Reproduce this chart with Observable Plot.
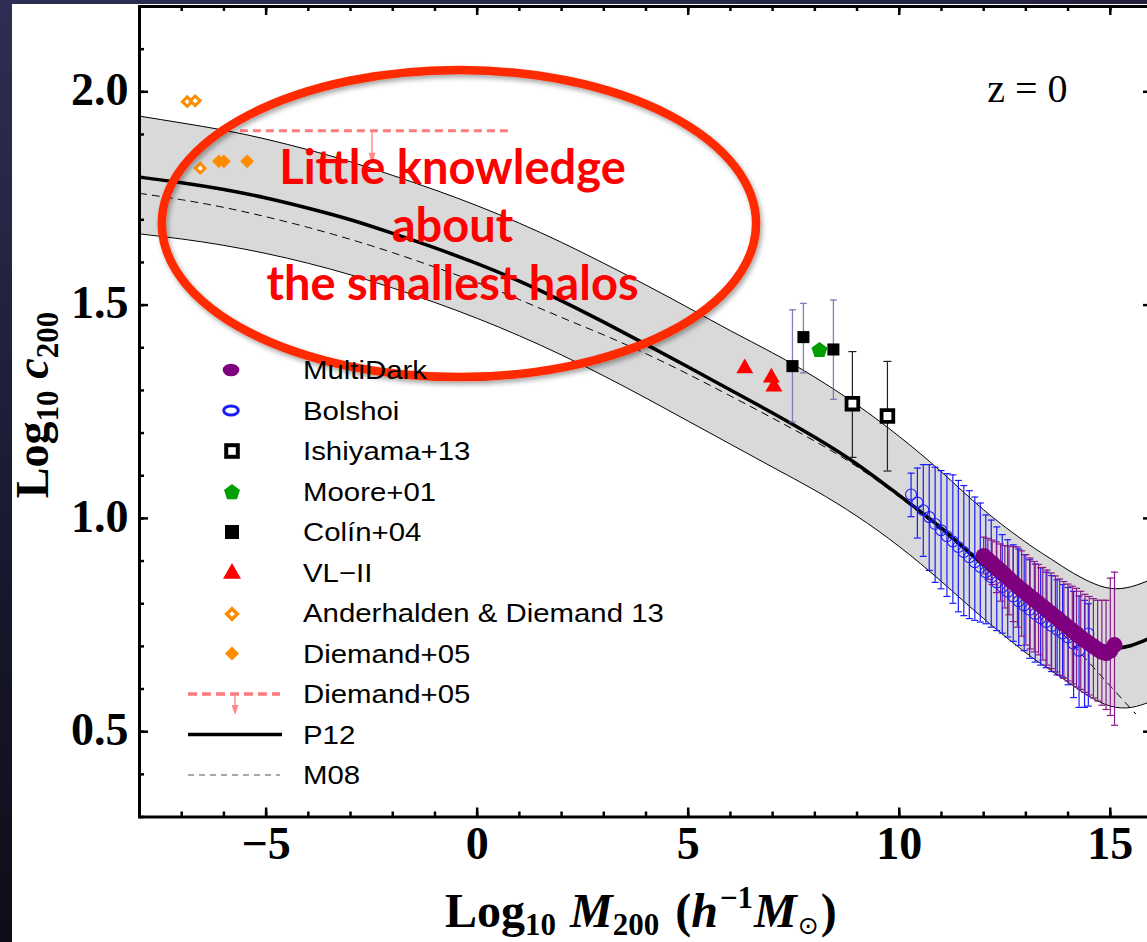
<!DOCTYPE html>
<html>
<head>
<meta charset="utf-8">
<script src="https://cdn.jsdelivr.net/npm/d3@7"></script>
<script src="https://cdn.jsdelivr.net/npm/@observablehq/plot@0.6"></script>
<style>
  html, body { margin: 0; padding: 0; width: 1147px; height: 942px; overflow: hidden; }
  body { position: relative; background: linear-gradient(165deg, #2e2e54 0%, #18182e 45%, #050508 100%); }
  #sheet { position: absolute; left: 12px; top: 4px; right: 0; bottom: 0; background: #ffffff; }
  #chart { position: absolute; left: 0; top: 0; }
</style>
</head>
<body>
<div id="sheet"></div>
<div id="chart"></div>
<script>
// ---- Model relations c(M) at z = 0 on a log10 M200 grid ----
const gridLogM = [-8, -7, -6, -5, -4, -3, -2, -1, 0, 1, 2, 3, 4, 5, 6, 7, 8, 9, 10, 11, 12, 13, 13.5, 14, 14.5, 15, 15.5, 16];
const p12LogC  = [1.800, 1.787, 1.771, 1.751, 1.727, 1.700, 1.668, 1.634, 1.597, 1.556, 1.510, 1.460, 1.408, 1.355, 1.301, 1.247, 1.190, 1.127, 1.054, 0.977, 0.890, 0.812, 0.778, 0.746, 0.716, 0.697, 0.702, 0.722];
const p12Upper = [1.943, 1.927, 1.910, 1.889, 1.864, 1.836, 1.804, 1.770, 1.733, 1.692, 1.647, 1.598, 1.547, 1.494, 1.440, 1.388, 1.331, 1.266, 1.192, 1.109, 1.020, 0.944, 0.911, 0.879, 0.852, 0.836, 0.840, 0.858];
const p12Lower = [1.667, 1.655, 1.640, 1.621, 1.598, 1.571, 1.540, 1.506, 1.469, 1.428, 1.383, 1.334, 1.282, 1.228, 1.174, 1.120, 1.066, 1.005, 0.934, 0.852, 0.765, 0.685, 0.650, 0.616, 0.583, 0.560, 0.557, 0.572];

const m08LogM = [-8, -7, -6, -5, -4, -3, -2, -1, 0, 1, 2, 3, 4, 5, 6, 7, 8, 9, 10, 11, 12, 13, 13.5, 14, 14.5, 15, 15.6];
const m08LogC = [1.762, 1.747, 1.729, 1.707, 1.682, 1.654, 1.623, 1.589, 1.553, 1.513, 1.471, 1.430, 1.386, 1.338, 1.287, 1.235, 1.181, 1.121, 1.050, 0.971, 0.887, 0.806, 0.768, 0.716, 0.662, 0.607, 0.542];

// ---- Simulation measurements ----
const multiDarkLogM = [12.0, 12.1, 12.2, 12.3, 12.4, 12.5, 12.6, 12.7, 12.8, 12.9, 13.0, 13.1, 13.2, 13.3, 13.4, 13.5, 13.6, 13.7, 13.8, 13.9, 14.0, 14.1, 14.2, 14.3, 14.4, 14.5, 14.6, 14.7, 14.8, 14.9, 15.0, 15.1];
const multiDarkLogC = [0.912, 0.903, 0.895, 0.886, 0.877, 0.868, 0.859, 0.850, 0.841, 0.833, 0.825, 0.817, 0.809, 0.801, 0.793, 0.785, 0.777, 0.769, 0.761, 0.753, 0.745, 0.737, 0.729, 0.721, 0.714, 0.707, 0.700, 0.693, 0.687, 0.684, 0.690, 0.703];
const multiDarkHi   = [0.956, 0.953, 0.949, 0.945, 0.940, 0.936, 0.935, 0.934, 0.933, 0.924, 0.915, 0.907, 0.899, 0.892, 0.885, 0.879, 0.872, 0.865, 0.858, 0.852, 0.846, 0.841, 0.836, 0.829, 0.822, 0.817, 0.812, 0.808, 0.808, 0.808, 0.860, 0.874];
const multiDarkLo   = [0.870, 0.857, 0.845, 0.826, 0.806, 0.790, 0.774, 0.758, 0.745, 0.724, 0.703, 0.694, 0.687, 0.680, 0.668, 0.656, 0.648, 0.640, 0.632, 0.625, 0.619, 0.612, 0.605, 0.599, 0.592, 0.586, 0.579, 0.572, 0.562, 0.552, 0.538, 0.515];

const bolshoiLogM = [10.28, 10.43, 10.57, 10.71, 10.85, 10.99, 11.13, 11.27, 11.40, 11.53, 11.66, 11.79, 11.92, 12.05, 12.18, 12.31, 12.44, 12.57, 12.70, 12.83, 12.96, 13.09, 13.22, 13.35, 13.48, 13.61, 13.74, 13.87, 14.00, 14.13, 14.26, 14.39, 14.48];
const bolshoiLogC = [1.056, 1.037, 1.019, 1.003, 0.987, 0.972, 0.958, 0.946, 0.933, 0.921, 0.909, 0.897, 0.886, 0.874, 0.862, 0.850, 0.839, 0.828, 0.817, 0.806, 0.796, 0.786, 0.776, 0.766, 0.757, 0.748, 0.739, 0.730, 0.721, 0.706, 0.690, 0.712, 0.730];
const bolshoiHi   = [1.106, 1.118, 1.126, 1.126, 1.120, 1.112, 1.105, 1.102, 1.089, 1.077, 1.065, 1.050, 1.036, 1.008, 0.996, 0.980, 0.962, 0.950, 0.938, 0.928, 0.915, 0.903, 0.893, 0.884, 0.874, 0.866, 0.856, 0.845, 0.838, 0.829, 0.818, 0.808, 0.800];
const bolshoiLo   = [1.004, 0.954, 0.911, 0.878, 0.850, 0.835, 0.817, 0.801, 0.781, 0.772, 0.765, 0.761, 0.757, 0.753, 0.745, 0.737, 0.731, 0.722, 0.712, 0.702, 0.690, 0.672, 0.663, 0.656, 0.650, 0.641, 0.633, 0.628, 0.610, 0.580, 0.557, 0.557, 0.560];

const ishiyamaLogM = [8.89, 9.72];
const ishiyamaLogC = [1.269, 1.240];
const ishiyamaHi   = [1.391, 1.368];
const ishiyamaLo   = [1.143, 1.111];

const mooreLogM = [8.11];
const mooreLogC = [1.394];

const colinLogM = [7.47, 7.73, 8.44];
const colinLogC = [1.357, 1.425, 1.396];
const colinHi   = [1.489, 1.504, 1.512];
const colinLo   = [1.226, 1.341, 1.279];

const vl2LogM = [6.34, 6.97, 7.03];
const vl2LogC = [1.352, 1.330, 1.309];

const anderhaldenLogM = [-6.87, -6.68, -6.56];
const anderhaldenLogC = [1.977, 1.979, 1.821];

const diemandLogM = [-6.12, -6.00, -5.45];
const diemandLogC = [1.837, 1.837, 1.837];

// Diemand+05 upper limit: horizontal span and the mass where the arrow sits
const diemandLimitLogC = 1.909;
const diemandLimitFrom = -5.61;
const diemandLimitTo = 0.74;
const diemandLimitArrowAt = -2.49;

// ---- Axis ticks and labels ----
const xMajorTicks = [-5, 0, 5, 10, 15];
const xMinorTicks = d3.range(-8, 17, 1);
const yMajorTicks = [0.5, 1.0, 1.5, 2.0];
const yMinorTicks = d3.range(3, 23).map(k => k / 10);

const legendLabels = ["MultiDark", "Bolshoi", "Ishiyama+13", "Moore+01", "Colín+04", "VL\u2212II", "Anderhalden & Diemand 13", "Diemand+05", "Diemand+05", "P12", "M08"];
const redshiftLabel = "z = 0";
const noteLines = ["Little knowledge", "about", "the smallest halos"];

// ---- Tables built from the arrays above ----
const curves = gridLogM.map((m, i) => ({m, c: p12LogC[i], hi: p12Upper[i], lo: p12Lower[i]}));
const m08 = m08LogM.map((m, i) => ({m, c: m08LogC[i]}));
const withBars = (ms, cs, his, los) => ms.map((m, i) => ({m, c: cs[i], hi: his ? his[i] : null, lo: los ? los[i] : null}));
const multiDark = withBars(multiDarkLogM, multiDarkLogC, multiDarkHi, multiDarkLo);
const bolshoi = withBars(bolshoiLogM, bolshoiLogC, bolshoiHi, bolshoiLo);
const ishiyama = withBars(ishiyamaLogM, ishiyamaLogC, ishiyamaHi, ishiyamaLo);
const colin = withBars(colinLogM, colinLogC, colinHi, colinLo);
const moore = withBars(mooreLogM, mooreLogC);
const vl2 = withBars(vl2LogM, vl2LogC);
const anderhalden = withBars(anderhaldenLogM, anderhaldenLogC);
const diemand = withBars(diemandLogM, diemandLogC);
const diemandLimit = [{m1: diemandLimitFrom, m2: diemandLimitTo, m: diemandLimitArrowAt, c: diemandLimitLogC}];

// ---- Custom symbols ----
const capSymbol = {draw(ctx, size) { const w = Math.sqrt(size / Math.PI); ctx.moveTo(-w, 0); ctx.lineTo(w, 0); }};
const pentagonSymbol = {draw(ctx, size) {
  const R = Math.sqrt(size / 2.3776);
  for (let k = 0; k < 5; ++k) {
    const a = -Math.PI / 2 + k * 2 * Math.PI / 5;
    const px = R * Math.cos(a), py = R * Math.sin(a);
    if (k) ctx.lineTo(px, py); else ctx.moveTo(px, py);
  }
  ctx.closePath();
}};
// downward arrow hanging from the point (upper limit marker)
const limitArrowSymbol = {draw(ctx) {
  ctx.moveTo(-0.7, 0); ctx.lineTo(0.7, 0); ctx.lineTo(0.7, 22); ctx.lineTo(3.5, 22);
  ctx.lineTo(0, 33); ctx.lineTo(-3.5, 22); ctx.lineTo(-0.7, 22); ctx.closePath();
}};

function errorBars(data, color, capR, width = 1, opacity = 1) {
  return [
    Plot.ruleX(data, {x: "m", y1: "lo", y2: "hi", stroke: color, strokeWidth: width, strokeOpacity: opacity}),
    Plot.dot(data, {x: "m", y: "hi", symbol: capSymbol, r: capR, stroke: color, fill: "none", strokeWidth: width, strokeOpacity: opacity}),
    Plot.dot(data, {x: "m", y: "lo", symbol: capSymbol, r: capR, stroke: color, fill: "none", strokeWidth: width, strokeOpacity: opacity})
  ];
}

const W = 1160, H = 942;
const margin = {left: 139, right: 8, top: 6, bottom: 125.5};
const frameW = W - margin.left - margin.right;
const frameH = H - margin.top - margin.bottom;
const serif = "Liberation Serif, Times New Roman, serif";
const black = "#000";

const plot = Plot.plot({
  width: W,
  height: H,
  marginLeft: margin.left,
  marginRight: margin.right,
  marginTop: margin.top,
  marginBottom: margin.bottom,
  x: {domain: [-8, 16], axis: null},
  y: {domain: [0.3, 2.2], axis: null},
  style: {background: "transparent", maxWidth: "none", overflow: "visible"},
  marks: [
    // P12 scatter band, its edges, M08 and P12
    Plot.areaY(curves, {x: "m", y1: "lo", y2: "hi", fill: "#d9d9d9", curve: "natural", clip: true}),
    Plot.line(curves, {x: "m", y: "hi", stroke: black, strokeWidth: 1, curve: "natural", clip: true}),
    Plot.line(curves, {x: "m", y: "lo", stroke: black, strokeWidth: 1, curve: "natural", clip: true}),
    Plot.line(m08, {x: "m", y: "c", stroke: black, strokeWidth: 1, strokeDasharray: "7,6", curve: "natural", clip: true}),
    Plot.line(curves, {x: "m", y: "c", stroke: black, strokeWidth: 3.5, curve: "natural", clip: true}),

    // Diemand+05 upper limit
    Plot.ruleY(diemandLimit, {y: "c", x1: "m1", x2: "m2", stroke: "#ff7a7a", strokeWidth: 3, strokeDasharray: "8,5"}),
    Plot.dot(diemandLimit, {x: "m", y: "c", symbol: limitArrowSymbol, r: 1, fill: "#ff8a8a", stroke: "none"}),

    // error bars
    ...errorBars(colin, "#6a6ab0", 3.5, 1.3, 0.85),
    ...errorBars(ishiyama, "#222", 4, 1.2),
    ...errorBars(bolshoi, "#1a1aff", 3.5, 1.2),
    ...errorBars(multiDark, "#8a1a8a", 3.5, 1.2),

    // points
    Plot.dot(bolshoi, {x: "m", y: "c", r: 5.5, stroke: "#1a1aff", strokeWidth: 1.1, fill: "none"}),
    Plot.dot(multiDark, {x: "m", y: "c", r: 8, fill: "#7f007f", stroke: "none"}),
    Plot.dot(vl2, {x: "m", y: "c", symbol: "triangle", r: 6.3, fill: "#ff0000", stroke: "none"}),
    Plot.dot(colin, {x: "m", y: "c", symbol: "square", r: 6.8, fill: black, stroke: "none"}),
    Plot.dot(moore, {x: "m", y: "c", symbol: pentagonSymbol, r: 7.3, fill: "#009e00", stroke: "none"}),
    Plot.dot(ishiyama, {x: "m", y: "c", symbol: "square", r: 6.6, fill: "#fff", stroke: black, strokeWidth: 3.8}),
    Plot.dot(diemand, {x: "m", y: "c", symbol: "diamond2", r: 6.2, fill: "#ff8c00", stroke: "none"}),
    Plot.dot(anderhalden, {x: "m", y: "c", symbol: "diamond2", r: 4.3, fill: "#fff", stroke: "#ff8c00", strokeWidth: 3}),

    // frame with inward ticks on all four sides
    Plot.frame({stroke: black, strokeWidth: 3}),
    Plot.ruleX(xMinorTicks, {x: d => d, insetTop: frameH - 5, stroke: black, strokeWidth: 2.5}),
    Plot.ruleX(xMajorTicks, {x: d => d, insetTop: frameH - 9, stroke: black, strokeWidth: 2.5}),
    Plot.ruleX(xMinorTicks, {x: d => d, insetBottom: frameH - 5, stroke: black, strokeWidth: 2.5}),
    Plot.ruleX(xMajorTicks, {x: d => d, insetBottom: frameH - 9, stroke: black, strokeWidth: 2.5}),
    Plot.ruleY(yMinorTicks, {y: d => d, insetRight: frameW - 5, stroke: black, strokeWidth: 2.5}),
    Plot.ruleY(yMajorTicks, {y: d => d, insetRight: frameW - 9, stroke: black, strokeWidth: 2.5}),
    Plot.ruleY(yMinorTicks, {y: d => d, insetLeft: frameW - 5, stroke: black, strokeWidth: 2.5}),
    Plot.ruleY(yMajorTicks, {y: d => d, insetLeft: frameW - 9, stroke: black, strokeWidth: 2.5}),

    // tick labels
    Plot.text(xMajorTicks, {x: d => d, frameAnchor: "bottom", dy: 41.5, lineAnchor: "bottom", textAnchor: "middle",
      text: d => d < 0 ? "\u2212" + (-d) : String(d), fontFamily: serif, fontWeight: "bold", fontSize: 46, fill: black}),
    Plot.text(yMajorTicks, {y: d => d, frameAnchor: "left", dx: -11, dy: -1.5, lineAnchor: "middle", textAnchor: "end",
      text: d => d.toFixed(1), fontFamily: serif, fontWeight: "bold", fontSize: 46, fill: black}),

    // redshift label
    Plot.text([redshiftLabel], {frameAnchor: "top-right", dx: -85, dy: 95.7, lineAnchor: "bottom", textAnchor: "end",
      text: d => d, fontFamily: serif, fontSize: 40, fill: black}),

    // annotation text
    Plot.text([noteLines.join("\n")], {frameAnchor: "top-left", dx: 313, dy: 293.3, lineAnchor: "bottom", textAnchor: "middle",
      text: d => d, lineHeight: 58 / 47, fontFamily: "Lato, Open Sans, sans-serif", fontWeight: "bold", fontSize: 47, fill: "#ff0000"})
  ]
});

document.getElementById("chart").append(plot);

const svg = d3.select(plot);
const sx = plot.scale("x"), sy = plot.scale("y");

// ---- annotation ellipse around the low-mass end ----
const noteEllipse = {m: -0.42, c: 1.69, dm: 7.04, dc: 0.36};
const defs = svg.append("defs");
const shadow = defs.append("filter").attr("id", "soft-shadow").attr("x", "-10%").attr("y", "-10%").attr("width", "130%").attr("height", "130%");
shadow.append("feDropShadow").attr("dx", 2).attr("dy", 3).attr("stdDeviation", 2.5).attr("flood-color", "#000").attr("flood-opacity", 0.35);
{
  const cx = sx.apply(noteEllipse.m), cy = sy.apply(noteEllipse.c);
  svg.append("ellipse")
    .attr("cx", cx).attr("cy", cy)
    .attr("rx", sx.apply(noteEllipse.m + noteEllipse.dm) - cx)
    .attr("ry", sy.apply(noteEllipse.c - noteEllipse.dc) - cy)
    .attr("fill", "none").attr("stroke", "#ff2a00").attr("stroke-width", 8.5)
    .attr("filter", "url(#soft-shadow)");
}

// ---- legend ----
{
  const g = svg.append("g").attr("text-anchor", "start");
  const symX = 231, textX = 303, top = 370, step = 40.5;
  const sym = (type, size) => d3.symbol(type, size)();
  const keys = [
    (k, y) => k.append("ellipse").attr("cx", symX).attr("cy", y).attr("rx", 8.3).attr("ry", 6.3).attr("fill", "#7f007f"),
    (k, y) => k.append("ellipse").attr("cx", symX).attr("cy", y).attr("rx", 7.3).attr("ry", 4.5).attr("fill", "none").attr("stroke", "#1a1aff").attr("stroke-width", 3),
    (k, y) => k.append("rect").attr("x", symX + 1 - 5.8).attr("y", y - 5.8).attr("width", 11.6).attr("height", 11.6).attr("fill", "#fff").attr("stroke", black).attr("stroke-width", 4),
    (k, y) => k.append("path").attr("transform", `translate(${symX + 1},${y + 1})`).attr("d", sym(pentagonSymbol, Math.PI * 7.3 * 7.3)).attr("fill", "#009e00"),
    (k, y) => k.append("rect").attr("x", symX + 1 - 7).attr("y", y - 7).attr("width", 14).attr("height", 14).attr("fill", black),
    (k, y) => k.append("path").attr("transform", `translate(${symX + 1},${y + 1})`).attr("d", sym(d3.symbolTriangle, 140)).attr("fill", "#ff0000"),
    (k, y) => k.append("path").attr("transform", `translate(${symX + 1},${y + 1})`).attr("d", sym(d3.symbolDiamond2, 72)).attr("fill", "#fff").attr("stroke", "#ff8c00").attr("stroke-width", 3.5),
    (k, y) => k.append("path").attr("transform", `translate(${symX + 1},${y})`).attr("d", sym(d3.symbolDiamond2, 128)).attr("fill", "#ff8c00"),
    (k, y) => {
      k.append("line").attr("x1", 188).attr("x2", 280).attr("y1", y).attr("y2", y).attr("stroke", "#ff7a7a").attr("stroke-width", 3.5).attr("stroke-dasharray", "9,5");
      k.append("path").attr("transform", `translate(${symX + 4},${y})`).attr("d", "M-0.7,0L0.7,0L0.7,11L3.5,11L0,21L-3.5,11L-0.7,11Z").attr("fill", "#ff8a8a");
    },
    (k, y) => k.append("line").attr("x1", 188).attr("x2", 282).attr("y1", y).attr("y2", y).attr("stroke", black).attr("stroke-width", 3.5),
    (k, y) => k.append("line").attr("x1", 188).attr("x2", 280).attr("y1", y).attr("y2", y).attr("stroke", "#555").attr("stroke-width", 1.2).attr("stroke-dasharray", "6,5")
  ];
  legendLabels.forEach((label, i) => {
    const y = top + step * i;
    keys[i](g, y);
    g.append("text")
      .attr("transform", `translate(${textX},${y + 9.3}) scale(1.13,1)`)
      .attr("text-anchor", "start")
      .attr("font-family", "Liberation Sans, Arial, sans-serif")
      .attr("font-size", 26)
      .attr("fill", black)
      .text(label);
  });
}

// ---- axis titles (with sub/superscripts) ----
function richText(parent, attrs, parts) {
  const t = parent.append("text");
  for (const [k, v] of Object.entries(attrs)) t.attr(k, v);
  let shift = 0;
  for (const p of parts) {
    const s = t.append("tspan").text(p.text);
    const target = p.shift || 0;
    if (target !== shift) { s.attr("dy", target - shift); shift = target; }
    if (p.dx) s.attr("dx", p.dx);
    if (p.size) s.attr("font-size", p.size);
    if (p.italic) s.attr("font-style", "italic");
    if (p.family) s.attr("font-family", p.family);
    if (p.weight) s.attr("font-weight", p.weight);
  }
  return t;
}
const titleAttrs = {"font-family": serif, "font-weight": "bold", "font-size": 46, "fill": black};
richText(svg, {...titleAttrs, "transform": "translate(48,405) rotate(-90)", "text-anchor": "middle"}, [
  {text: "Log"}, {text: "10", size: 31, shift: 10}, {text: "c", italic: true, dx: 12}, {text: "200", size: 31, shift: 10}
]);
richText(svg, {...titleAttrs, "x": 445, "y": 927, "text-anchor": "start", "font-size": 48}, [
  {text: "Log"}, {text: "10", size: 31, shift: 8}, {text: "M", italic: true, dx: 14}, {text: "200", size: 31, shift: 8},
  {text: "(", dx: 16}, {text: "h", italic: true}, {text: "\u22121", size: 31, shift: -19, dx: 2}, {text: "M", italic: true, dx: 1},
  {text: "\u2299", size: 25, shift: 7, family: "DejaVu Sans", weight: "normal", dx: 1}, {text: ")", dx: 2}
]);
</script>
</body>
</html>
